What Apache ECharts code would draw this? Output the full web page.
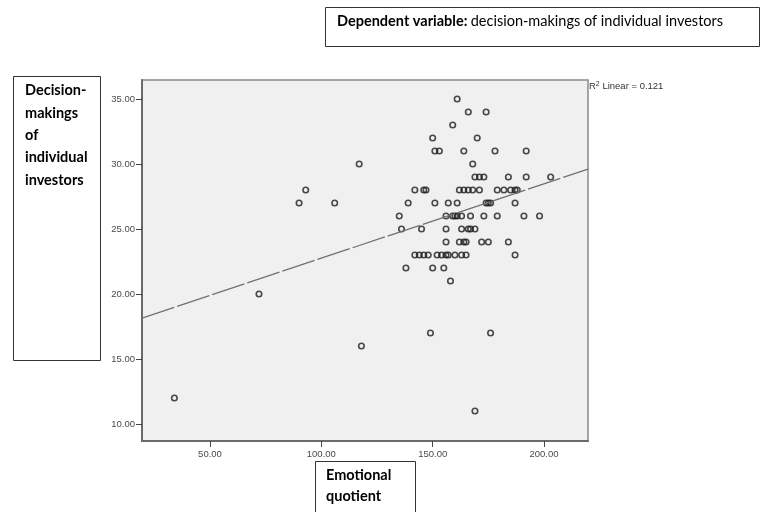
<!DOCTYPE html>
<html>
<head>
<meta charset="utf-8">
<script src="https://cdn.jsdelivr.net/npm/echarts@6/dist/echarts.min.js"></script>
<style>html,body{margin:0;padding:0;background:#fff}#c{width:760px;height:512px}</style>
</head>
<body>
<div id="c"></div>
<script>
// Emotional quotient (x) and decision-makings of individual investors (y)
const emotionalQuotient = [34,72,90,93,106,117,118,149,176,169,
  161,166,174,159,150,170,151,153,164,178,192,168,
  169,171,173,184,192,203,
  142,146,147,162,164,166,168,171,179,182,185,187,188,
  139,151,157,161,174,175,176,187,
  135,156,159,160,161,163,167,173,179,191,198,
  136,145,156,163,166,167,169,
  156,162,164,165,172,175,184,
  142,144,146,148,152,154,156,157,160,163,165,187,
  138,150,155,158];
const decisionMaking = [12,20,27,28,27,30,16,17,17,11,
  35,34,34,33,32,32,31,31,31,31,31,30,
  29,29,29,29,29,29,
  28,28,28,28,28,28,28,28,28,28,28,28,28,
  27,27,27,27,27,27,27,27,
  26,26,26,26,26,26,26,26,26,26,26,
  25,25,25,25,25,25,25,
  24,24,24,24,24,24,24,
  23,23,23,23,23,23,23,23,23,23,23,23,
  22,22,22,21];
const fitLineX = [19.46, 219.76];
const fitLineY = [18.15, 29.6];
const xTicks = [50, 100, 150, 200];
const yTicks = [10, 15, 20, 25, 30, 35];
const xRange = [19.46, 219.76];
const yRange = [8.69, 36.46];
const rSquaredText = '0.121';

const points = emotionalQuotient.map((x, i) => [x, decisionMaking[i]]);
const fitPoints = fitLineX.map((x, i) => [x, fitLineY[i]]);

const chart = echarts.init(document.getElementById('c'), null, {renderer: 'canvas'});
const tickLabel = {fontFamily: 'Liberation Sans, Arial, sans-serif', fontSize: 9.5, color: '#4a4a4a'};
const boxFont = 'Lato, "Open Sans", sans-serif';
chart.setOption({
  animation: false,
  backgroundColor: '#ffffff',
  grid: {left: 142, top: 80, width: 446, height: 361, show: true,
    backgroundColor: '#f0f0f0', borderColor: '#8a8a8a', borderWidth: 1.5},
  xAxis: {type: 'value', min: xRange[0], max: xRange[1],
    axisLine: {show: true, lineStyle: {color: '#6a6a6a', width: 2}},
    axisTick: {show: true, length: 6, customValues: xTicks, lineStyle: {color: '#444'}},
    axisLabel: Object.assign({customValues: xTicks, margin: 8, formatter: v => v.toFixed(2)}, tickLabel),
    splitLine: {show: false}},
  yAxis: {type: 'value', min: yRange[0], max: yRange[1],
    axisLine: {show: true, lineStyle: {color: '#6a6a6a', width: 2}},
    axisTick: {show: true, length: 6, customValues: yTicks, lineStyle: {color: '#444'}},
    axisLabel: Object.assign({customValues: yTicks, margin: 7, formatter: v => v.toFixed(2)}, tickLabel),
    splitLine: {show: false}},
  series: [
    {type: 'line', data: fitPoints, symbol: 'none', silent: true,
      lineStyle: {color: '#707070', width: 1.3, type: [34, 3]}},
    {type: 'scatter', data: points, symbol: 'circle', symbolSize: 5.5, silent: true,
      itemStyle: {color: 'rgba(0,0,0,0)', borderColor: '#1e1e1e', borderWidth: 1.6}}
  ],
  graphic: [
    {type: 'rect', shape: {x: 325.5, y: 7.5, width: 434, height: 39}, style: {fill: '#fff', stroke: '#333', lineWidth: 1}},
    {type: 'text', x: 337, y: 13.5, style: {text: '{b|Dependent variable:} {r|decision-makings of individual investors}',
      rich: {b: {fontFamily: boxFont, fontWeight: 'bold', fontSize: 14.5, fill: '#000'},
             r: {fontFamily: boxFont, fontSize: 14.5, fill: '#000'}}}},
    {type: 'rect', shape: {x: 13.5, y: 76.5, width: 87, height: 284}, style: {fill: '#fff', stroke: '#333', lineWidth: 1}},
    {type: 'text', x: 25, y: 79.5, style: {text: 'Decision-\nmakings\nof\nindividual\ninvestors',
      fontFamily: boxFont, fontWeight: 'bold', fontSize: 14.5, lineHeight: 22.3, fill: '#000'}},
    {type: 'rect', shape: {x: 315.5, y: 461.5, width: 100, height: 60}, style: {fill: '#fff', stroke: '#333', lineWidth: 1}},
    {type: 'text', x: 326, y: 464.5, style: {text: 'Emotional\nquotient',
      fontFamily: boxFont, fontWeight: 'bold', fontSize: 14.5, lineHeight: 21, fill: '#000'}},
    {type: 'text', x: 589, y: 81, style: {text: 'R{s|2} Linear = ' + rSquaredText,
      fontFamily: 'Liberation Sans, Arial, sans-serif', fontSize: 9.5, fill: '#333',
      rich: {s: {fontSize: 7, verticalAlign: 'top', padding: [0, 0, 4, 0], fill: '#333', fontFamily: 'Liberation Sans, Arial, sans-serif'}}}}
  ]
});
</script>
</body>
</html>
